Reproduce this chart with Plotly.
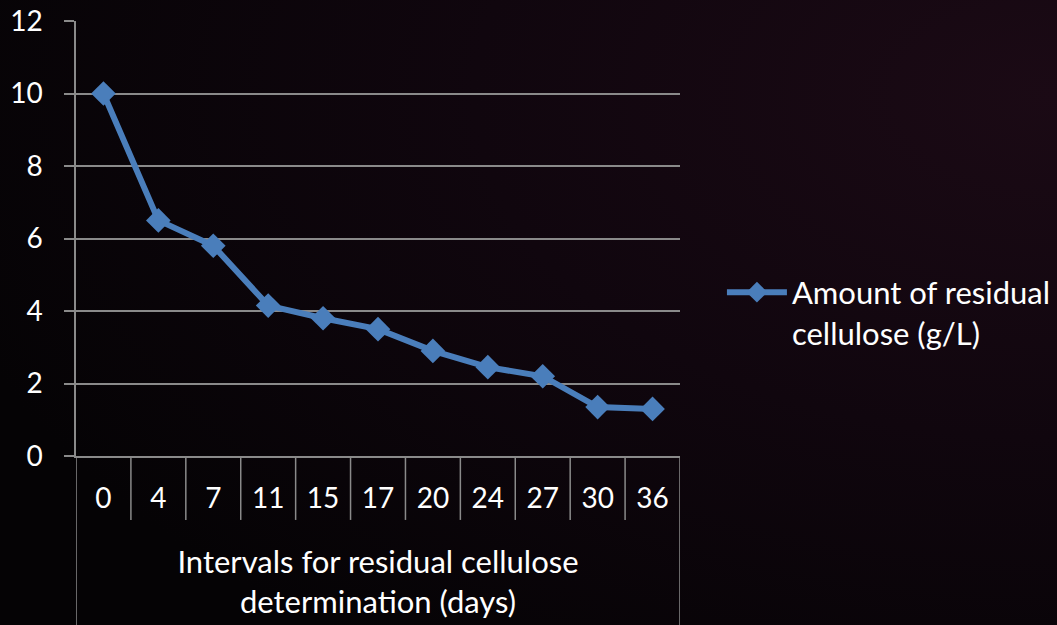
import base64
import plotly.graph_objects as go

days = ["0", "4", "7", "11", "15", "17", "20", "24", "27", "30", "36"]
cellulose = [10, 6.5, 5.8, 4.15, 3.8, 3.5, 2.9, 2.45, 2.2, 1.35, 1.3]
series_name = "Amount of residual<br>cellulose (g/L)"
y_ticks = [0, 2, 4, 6, 8, 10, 12]
x_title = "Intervals for residual cellulose<br>determination (days)"

grid = "#8a8a8a"
font = "Lato, 'Open Sans', sans-serif"

W, H = 1057, 625
L, R, T, B = 76, 377, 21, 169
pw, ph = W - L - R, H - T - B

svg = (
    '<svg xmlns="http://www.w3.org/2000/svg" width="1057" height="625">'
    '<defs><radialGradient id="g" cx="1" cy="0.15" r="1.1">'
    '<stop offset="0" stop-color="#1b0a15"/>'
    '<stop offset="0.5" stop-color="#10060e"/>'
    '<stop offset="1" stop-color="#050305"/>'
    '</radialGradient></defs>'
    '<rect width="1057" height="625" fill="url(#g)"/></svg>'
)
bg_src = "data:image/svg+xml;base64," + base64.b64encode(svg.encode()).decode()

fig = go.Figure()
fig.add_trace(go.Scatter(
    x=days, y=cellulose, mode="lines+markers", name=series_name,
    line=dict(color="#4A7EBB", width=6),
    marker=dict(symbol="diamond", size=19, color="#4A7EBB"),
))

n = len(days)
shapes = []
for i in range(n + 1):
    pos = i - 0.5
    bottom = -0.40 if i in (0, n) else -0.147
    shapes.append(dict(type="line", xref="x", yref="paper", x0=pos, x1=pos,
                       y0=0, y1=bottom, line=dict(color=grid, width=1.5)))

fig.update_layout(
    width=W, height=H,
    margin=dict(l=L, r=R, t=T, b=B, autoexpand=False),
    paper_bgcolor="#0a0409", plot_bgcolor="rgba(0,0,0,0)",
    images=[dict(source=bg_src, xref="paper", yref="paper",
                 x=-L / pw, y=1 + T / ph, sizex=W / pw, sizey=H / ph,
                 xanchor="left", yanchor="top", sizing="stretch",
                 layer="below")],
    font=dict(family=font, color="white", size=28),
    showlegend=True,
    legend=dict(xref="container", yref="container", x=0.683, y=0.50,
                xanchor="left", yanchor="middle",
                valign="top", itemwidth=60,
                font=dict(size=31, color="white"),
                bgcolor="rgba(0,0,0,0)"),
    shapes=shapes,
    xaxis=dict(type="category", range=[-0.5, n - 0.5], showgrid=False,
               showline=True, linecolor=grid, linewidth=1.5, ticks="",
               ticklabelstandoff=17, tickfont=dict(size=28),
               title=dict(text=x_title, font=dict(size=31), standoff=38),
               zeroline=False, automargin=False),
    yaxis=dict(range=[0, 12], tickvals=y_ticks, showgrid=True, gridcolor=grid,
               gridwidth=1.5, showline=True, linecolor=grid, linewidth=1.5,
               ticks="outside", ticklen=10, tickcolor=grid, tickwidth=1.5,
               ticklabelstandoff=16, tickfont=dict(size=28), zeroline=False,
               automargin=False),
)

fig.write_html("out.html", config={"displayModeBar": False},
               post_script="document.body.style.margin='0';document.body.style.background='#0a0409';")
